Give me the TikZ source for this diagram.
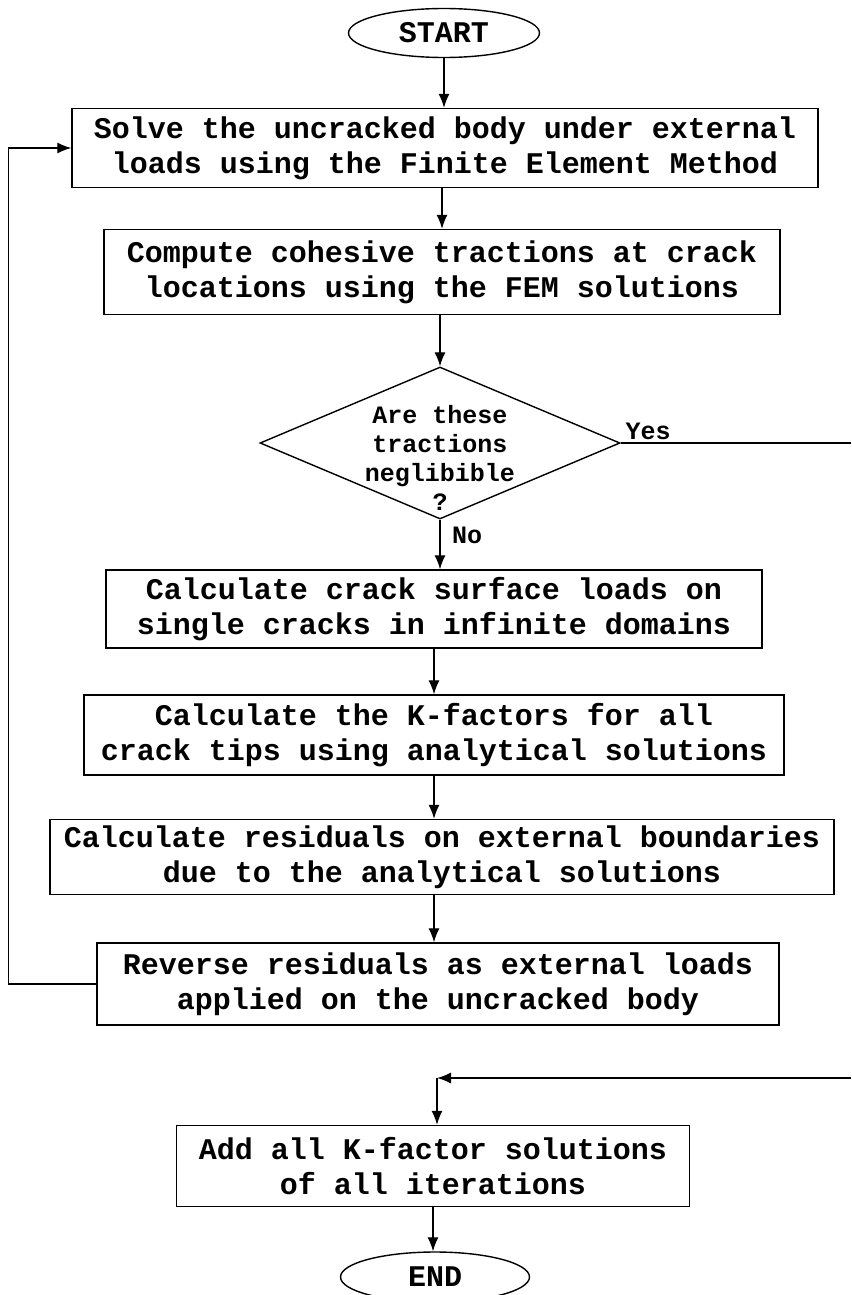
\documentclass[tikz,border=0pt]{standalone}
\usepackage{fontspec}
\setmainfont{Liberation Mono}
\usetikzlibrary{shapes.geometric,arrows.meta}
\begin{document}
\begin{tikzpicture}[x=1pt,y=-1pt,
  every node/.style={font=\bfseries\fontsize{30}{35}\selectfont},
  procbox/.style={draw,line width=1.4pt,rectangle,align=center,inner sep=0pt},
  term/.style={draw,line width=1.4pt,ellipse,inner sep=0pt},
  decbox/.style={draw,line width=1.4pt,diamond,inner sep=0pt},
  arr/.style={line width=1.3pt,-{Latex[length=14pt,width=11pt]}},
  plainline/.style={line width=1.3pt},
  small/.style={font=\bfseries\fontsize{25}{29}\selectfont,align=center,inner sep=0pt}]
\useasboundingbox[fill=white] (0,0) rectangle (851,1295);

\node[term,minimum width=191pt,minimum height=49pt] (start) at (444,33) {START};
\node[procbox,minimum width=746pt,minimum height=79pt] (box1) at (445,148)
  {Solve the uncracked body under external\\loads using the Finite Element Method};
\node[procbox,minimum width=676pt,minimum height=85pt] (box2) at (442,272)
  {Compute cohesive tractions at crack\\locations using the FEM solutions};
\node[decbox,minimum width=360pt,minimum height=152pt] (dec) at (440,443) {};
\node[small] (dectext) at (440,458) {Are these\\tractions\\neglibible\\?};
\node[procbox,minimum width=656pt,minimum height=78pt] (box3) at (434,609)
  {Calculate crack surface loads on\\single cracks in infinite domains};
\node[procbox,minimum width=700pt,minimum height=80pt] (box4) at (434,735)
  {Calculate the K-factors for all\\crack tips using analytical solutions};
\node[procbox,minimum width=784pt,minimum height=75pt] (box5) at (442,857)
  {Calculate residuals on external boundaries\\due to the analytical solutions};
\node[procbox,minimum width=682pt,minimum height=82pt] (box6) at (438,984)
  {Reverse residuals as external loads\\applied on the uncracked body};
\node[procbox,minimum width=513pt,minimum height=81pt] (add) at (433,1166)
  {Add all K-factor solutions\\of all iterations};
\node[term,minimum width=189pt,minimum height=50pt] (endn) at (435,1277) {END};

\node[small,anchor=west] (nolab) at (452,535) {No};
\node[small] (yeslab) at (648,431) {Yes};

\coordinate (yesend) at (851,443);
\coordinate (retin) at (851,1078);
\coordinate (retcorner) at (437,1078);

\draw[arr] (start.south) -- (start.south |- box1.north);
\draw[arr] (box1.south -| box2.north) -- (box2.north);
\draw[arr] (box2.south -| dec.north) -- (dec.north);
\draw[arr] (dec.south) -- (dec.south |- box3.north);
\draw[plainline] (dec.east) -- (yesend);
\draw[arr] (box3.south) -- (box3.south |- box4.north);
\draw[arr] (box4.south) -- (box4.south |- box5.north);
\draw[arr] (box5.south -| box4.south) -- (box6.north -| box4.south);
\draw[arr] (box6.west) -- ++(-88pt,0) |- (box1.west);
\draw[arr] (retin) -- (retcorner);
\draw[arr] (retcorner) -- (retcorner |- add.north);
\draw[arr] (add.south) -- (add.south |- endn.north);
\end{tikzpicture}
\end{document}
